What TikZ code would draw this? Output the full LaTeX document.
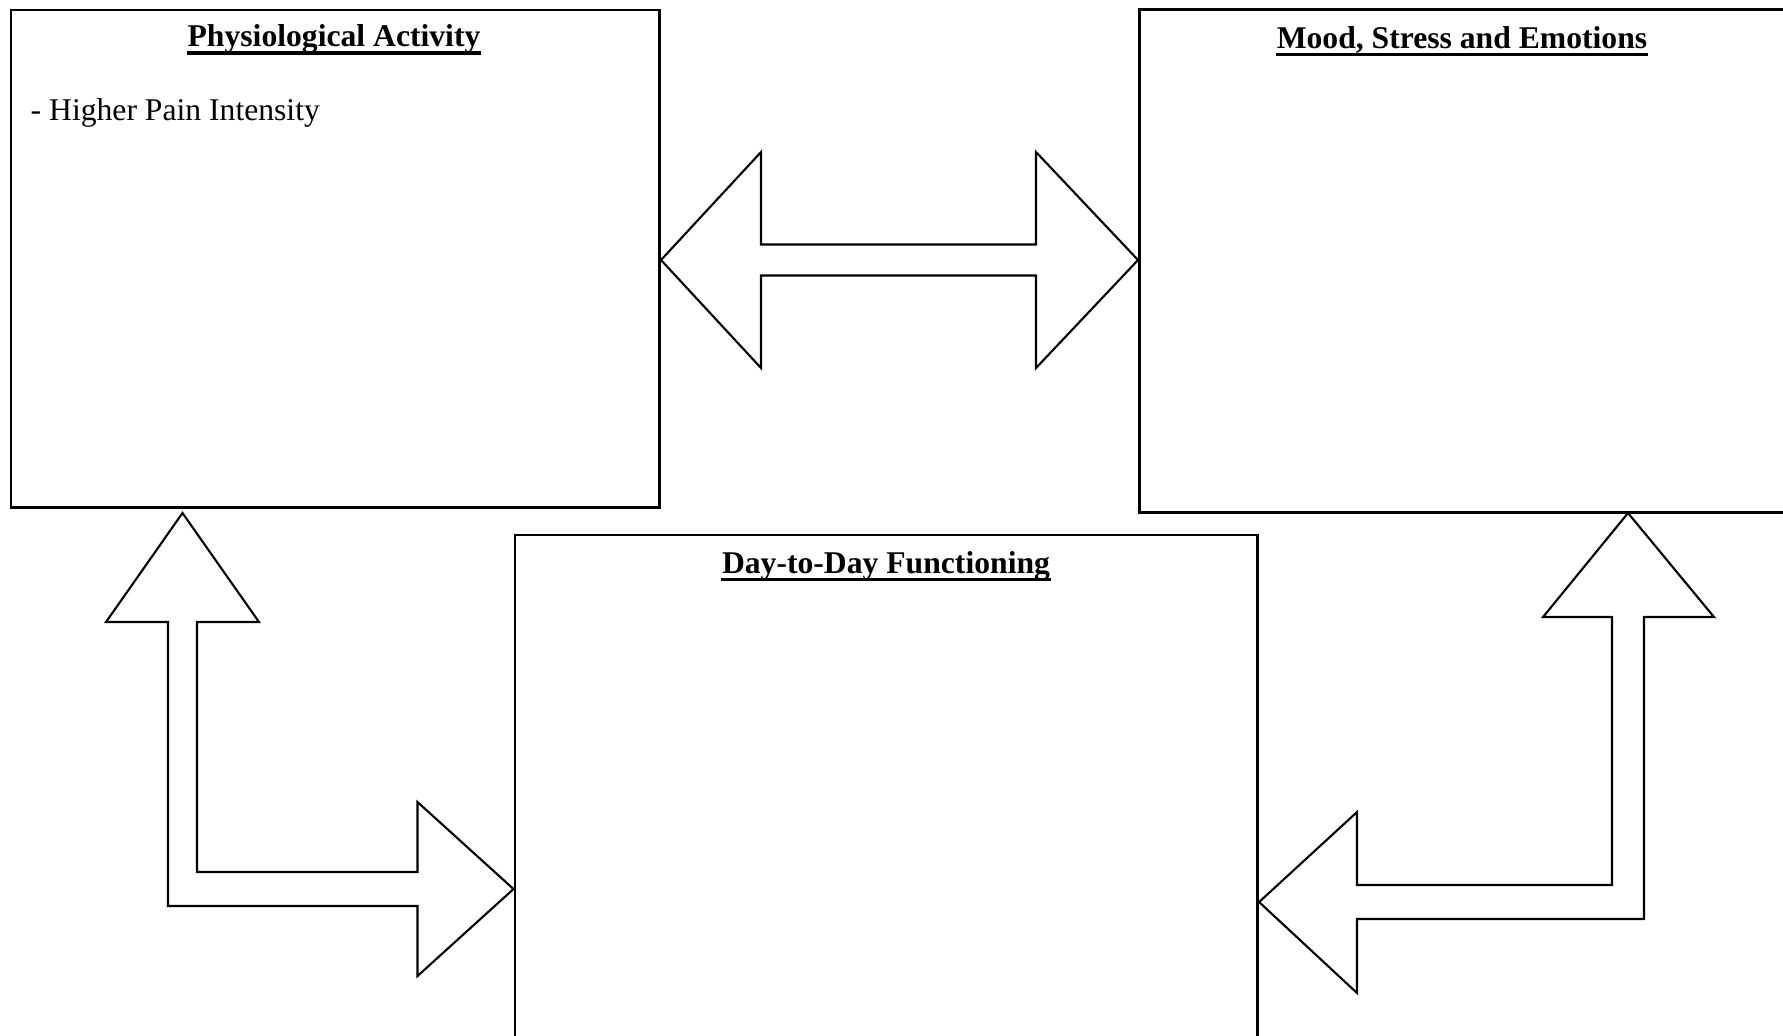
\documentclass[tikz,border=0pt]{standalone}
\usepackage{fontspec}
\setmainfont{Liberation Serif}
\usepackage{tikz}
\usetikzlibrary{positioning}

\tikzset{
    box/.style={draw, line width=0.75pt, anchor=north west, inner sep=0pt},
    title/.style={anchor=base, inner sep=0pt, font=\fontsize{9}{11}\selectfont\bfseries},
    entry/.style={anchor=base west, inner sep=0pt, font=\fontsize{9}{11}\selectfont},
    uline/.style={line width=0.95pt},
    blockarrow/.style={draw, line width=0.6pt, line join=miter}
}

\begin{document}
\begin{tikzpicture}[x=0.01cm, y=-0.01cm]
        \useasboundingbox (0,0) rectangle (1783,1035);
        \node[box, minimum width=6.485cm, minimum height=4.975cm] (phys) at (9.5,8.5) {};
        \node[box, minimum width=6.48cm, minimum height=5.03cm] (mood) at (1138,8) {};
        \node[box, minimum width=7.425cm, minimum height=5.3cm] (daily) at (513.5,533.5) {};
        \node[title] (physT) at (334,46.5) {Physiological Activity};
        \node[title] (moodT) at (1462,48) {Mood, Stress and Emotions};
        \node[title] (dailyT) at (886,573) {Day-to-Day Functioning};
        \foreach \t in {physT, moodT, dailyT}
            \draw[uline] ([yshift=-1.8pt]\t.base west) -- ([yshift=-1.8pt]\t.base east);
        \node[entry] (pain) at (30,120) {- Higher Pain Intensity};
        \coordinate (A1) at (phys.east |- 0,260);
        \coordinate (A2) at (mood.west |- 0,260);
        \coordinate (B1) at (182.5,513);
        \coordinate (B2) at (daily.west |- 0,889);
        \coordinate (C1) at (1628,513);
        \coordinate (C2) at (daily.east |- 0,902);
        \draw[blockarrow] (A1) -- (761,152) -- (761,244.5) -- (1036,244.5) -- (1036,152) -- (A2)
            -- (1036,368) -- (1036,275.5) -- (761,275.5) -- (761,368) -- cycle;
        \draw[blockarrow] (B1) -- (259,622) -- (197,622) -- (197,872) -- (417.5,872) -- (417.5,802) -- (B2)
            -- (417.5,976) -- (417.5,906) -- (168,906) -- (168,622) -- (106,622) -- cycle;
        \draw[blockarrow] (C1) -- (1714,617) -- (1644,617) -- (1644,919) -- (1357,919) -- (1357,993) -- (C2)
            -- (1357,812) -- (1357,885) -- (1612,885) -- (1612,617) -- (1543,617) -- cycle;
\end{tikzpicture}
\end{document}
